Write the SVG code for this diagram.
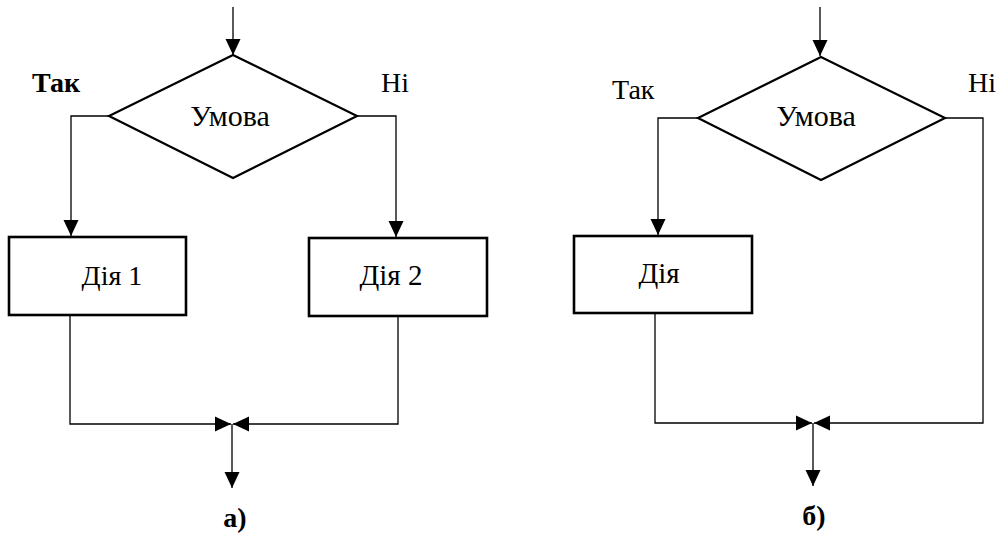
<svg xmlns="http://www.w3.org/2000/svg" width="1000" height="536" viewBox="0 0 1000 536">
<style>
.bg{fill:#fff}
.dia{fill:none;stroke:#000;stroke-width:2.2;stroke-linejoin:miter}
.box{fill:none;stroke:#000;stroke-width:2.6}
.con{fill:none;stroke:#000;stroke-width:1.3}
</style>
<defs>
<marker id="ah" markerUnits="userSpaceOnUse" markerWidth="16" markerHeight="16" refX="16" refY="8" orient="auto" viewBox="0 0 16 16">
<path d="M0,0.5 L16,8 L0,15.5 z" fill="#000"/>
</marker>
</defs>
<rect class="bg" x="0" y="0" width="1000" height="536"/>
<g id="connectors">
<path class="con" d="M233,7 V55" marker-end="url(#ah)"/>
<path class="con" d="M109,116 H71 V236" marker-end="url(#ah)"/>
<path class="con" d="M357,116 H396 V237" marker-end="url(#ah)"/>
<path class="con" d="M70,315 V424 H231" marker-end="url(#ah)"/>
<path class="con" d="M398,316 V424 H233" marker-end="url(#ah)"/>
<path class="con" d="M232,424 V488" marker-end="url(#ah)"/>
<path class="con" d="M820,7 V56" marker-end="url(#ah)"/>
<path class="con" d="M698,118 H658 V235" marker-end="url(#ah)"/>
<path class="con" d="M945,118 H983 V423 H814" marker-end="url(#ah)"/>
<path class="con" d="M655,313 V423 H812" marker-end="url(#ah)"/>
<path class="con" d="M813,423 V486" marker-end="url(#ah)"/>
</g>
<g id="cond-a">
<polygon class="dia" points="233,55 357,116 233,178 109,116"/>
<text font-family="Liberation Serif" font-size="30" text-anchor="middle" x="230" y="126">Умова</text>
</g>
<g id="action1-a">
<rect class="box" x="9" y="237" width="177" height="78"/>
<text font-family="Liberation Serif" font-size="28" text-anchor="middle" x="112" y="285">Дія 1</text>
</g>
<g id="action2-a">
<rect class="box" x="309" y="238" width="178" height="78"/>
<text font-family="Liberation Serif" font-size="29" text-anchor="middle" x="391" y="285">Дія 2</text>
</g>
<g id="labels-a">
<text font-family="Liberation Serif" font-size="28" font-weight="bold" x="32" y="92">Так</text>
<text font-family="Liberation Serif" font-size="28" x="381" y="92">Ні</text>
<text font-family="Liberation Serif" font-size="28" font-weight="bold" text-anchor="middle" x="235" y="527">а)</text>
</g>
<g id="cond-b">
<polygon class="dia" points="821,57 945,118 821,180 698,118"/>
<text font-family="Liberation Serif" font-size="30" text-anchor="middle" x="816" y="126">Умова</text>
</g>
<g id="action-b">
<rect class="box" x="574" y="236" width="178" height="77"/>
<text font-family="Liberation Serif" font-size="29" text-anchor="middle" x="659" y="283">Дія</text>
</g>
<g id="labels-b">
<text font-family="Liberation Serif" font-size="28" x="612" y="99">Так</text>
<text font-family="Liberation Serif" font-size="28" x="968" y="92">Ні</text>
<text font-family="Liberation Serif" font-size="28" font-weight="bold" text-anchor="middle" x="814" y="525">б)</text>
</g>
</svg>
